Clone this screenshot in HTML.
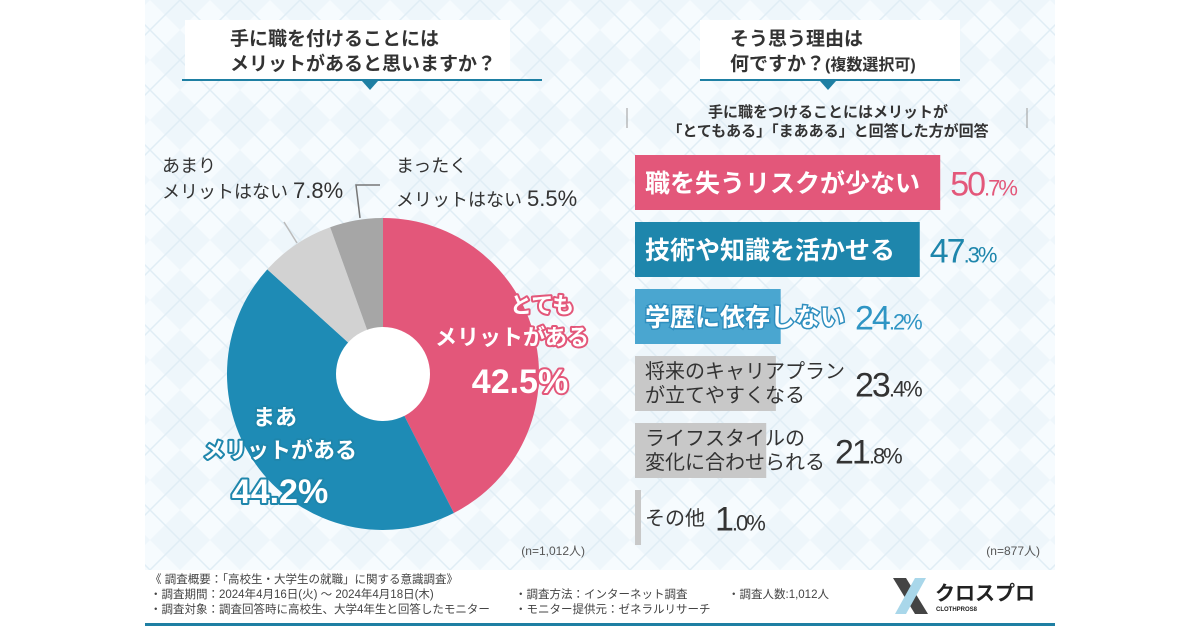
<!DOCTYPE html>
<html><head><meta charset="utf-8">
<style>
html,body{margin:0;padding:0;width:1200px;height:630px;overflow:hidden;background:#fff;font-family:"Liberation Sans","Noto Sans CJK JP",sans-serif;}
svg{display:block}
text{font-family:"Liberation Sans","Noto Sans CJK JP",sans-serif;}
</style></head><body>
<svg id="chart" width="1200" height="630" viewBox="0 0 1200 630">
<defs>
<pattern id="diam" width="60" height="60" patternUnits="userSpaceOnUse">
<rect width="60" height="60" fill="#eef6fb"/>
<path d="M30 0 L60 30 L30 60 L0 30 Z" fill="#f6fbfe"/>
<path d="M0 0 L60 60 M60 0 L0 60" stroke="#e0edf5" stroke-width="1.5"/>
</pattern>
</defs>
<rect x="145" y="0" width="910" height="570" fill="url(#diam)"/>
<g>
<rect x="185" y="20" width="325" height="60" fill="#fff"/>
<text x="230" y="45" font-size="19" font-weight="bold" fill="#333">手に職を付けることには</text>
<text x="230" y="70" font-size="19" font-weight="bold" fill="#333">メリットがあると思いますか？</text>
<rect x="182" y="79" width="360" height="2" fill="#1e7fa3"/>
<path d="M362 81 L378 81 L370 90 Z" fill="#1e7fa3"/>
</g>
<g>
<rect x="700" y="20" width="260" height="60" fill="#fff"/>
<text x="730" y="45" font-size="19" font-weight="bold" fill="#333">そう思う理由は</text>
<text x="730" y="70" font-size="19" font-weight="bold" fill="#333">何ですか？<tspan font-size="16">(複数選択可)</tspan></text>
<rect x="700" y="79" width="260" height="2" fill="#1e7fa3"/>
<path d="M820 81 L836 81 L828 90 Z" fill="#1e7fa3"/>
</g>
<g>
<text x="828" y="117" font-size="15" font-weight="bold" fill="#333" text-anchor="middle">手に職をつけることにはメリットが</text>
<text x="828" y="136" font-size="15" font-weight="bold" fill="#333" text-anchor="middle">「とてもある」「まあある」と回答した方が回答</text>
<line x1="627" y1="108" x2="627" y2="128" stroke="#999"/>
<line x1="1027" y1="108" x2="1027" y2="128" stroke="#999"/>
</g>
<g id="pie"></g>
<g>
<text x="162" y="172" font-size="18" fill="#333">あまり</text>
<text x="162" y="198" font-size="18" fill="#333">メリットはない <tspan font-size="22">7.8%</tspan></text>
<text x="396" y="172" font-size="18" fill="#333">まったく</text>
<text x="396" y="206" font-size="18" fill="#333">メリットはない <tspan font-size="22">5.5%</tspan></text>
<path d="M380 185 L356 185 L360 218" stroke="#777" stroke-width="1.5" fill="none"/>
<line x1="284" y1="222" x2="297" y2="243" stroke="#bbb" stroke-width="1.5"/>
</g>
<g font-weight="bold" fill="#fff" paint-order="stroke" stroke-linejoin="round">
<text x="542" y="313" font-size="22" text-anchor="middle" stroke="#e3577a" stroke-width="4">とても</text>
<text x="512" y="345" font-size="22" text-anchor="middle" stroke="#e3577a" stroke-width="4">メリットがある</text>
<text x="520" y="393" font-size="34" text-anchor="middle" stroke="#e3577a" stroke-width="4">42.5%</text>
<text x="275" y="425" font-size="22" text-anchor="middle" stroke="#1e86ac" stroke-width="4">まあ</text>
<text x="280" y="458" font-size="22" text-anchor="middle" stroke="#1e86ac" stroke-width="4">メリットがある</text>
<text x="280" y="503" font-size="34" text-anchor="middle" stroke="#1e86ac" stroke-width="4">44.2%</text>
</g>
<text x="585" y="555" font-size="12" fill="#555" text-anchor="end">(n=1,012人)</text>
<g id="bars"></g>
<text x="1040" y="555" font-size="12" fill="#555" text-anchor="end">(n=877人)</text>
<g font-size="11.5" fill="#444">
<text x="150" y="583">《 調査概要：「高校生・大学生の就職」に関する意識調査》</text>
<text x="150" y="598">・調査期間：2024年4月16日(火) ～ 2024年4月18日(木)</text>
<text x="150" y="613">・調査対象：調査回答時に高校生、大学4年生と回答したモニター</text>
<text x="515" y="598">・調査方法：インターネット調査</text>
<text x="515" y="613">・モニター提供元：ゼネラルリサーチ</text>
<text x="728" y="598">・調査人数:1,012人</text>
</g>
<g>
<path d="M893 578 L906 578 L928 614 L915 614 Z" fill="#444"/>
<path d="M915 578 L926 578 L906 614 L895 614 Z" fill="#a9d7ea"/>
<text x="935" y="600" font-size="20" font-weight="bold" fill="#222">クロスプロ</text>
<text x="936" y="611" font-size="6" font-weight="bold" fill="#222">CLOTHPROS8</text>
</g>
<rect x="145" y="623" width="910" height="3" fill="#1e7fa3"/>
</svg>
<script>
const pieLabels=['とてもメリットがある','まあメリットがある','あまりメリットはない','まったくメリットはない'];
const pieValues=[42.5,44.2,7.8,5.5];
const pieColors=['#e3577a','#1e8bb5','#d2d2d2','#a6a6a6'];
const barLabels=['職を失うリスクが少ない','技術や知識を活かせる','学歴に依存しない','将来のキャリアプラン|が立てやすくなる','ライフスタイルの|変化に合わせられる','その他'];
const barValues=[50.7,47.3,24.2,23.4,21.8,1.0];
const barColors=['#e3577a','#1e86ac','#4aa6d0','#c8c8c8','#c8c8c8','#c8c8c8'];
const valueColors=['#e3577a','#1e86ac','#2f95c4','#333','#333','#333'];
const NS='http://www.w3.org/2000/svg';
function mk(t,a,p){const e=document.createElementNS(NS,t);for(const k in a)e.setAttribute(k,a[k]);p.appendChild(e);return e;}
const cx=383,cy=374,R=156,r0=47;
const pie=document.getElementById('pie');
const tot=pieValues.reduce((a,b)=>a+b,0);
function ang(v){return v/tot*2*Math.PI-Math.PI/2;}
let acc=0;
pieValues.forEach((v,i)=>{
 const a0=ang(acc),a1=ang(acc+v);acc+=v;
 const large=(a1-a0)>Math.PI?1:0;
 const d=`M${cx+R*Math.cos(a0)} ${cy+R*Math.sin(a0)} A${R} ${R} 0 ${large} 1 ${cx+R*Math.cos(a1)} ${cy+R*Math.sin(a1)} L${cx} ${cy} Z`;
 const p=mk('path',{d:d,fill:pieColors[i]},pie);
 
 
});
const hole=mk('circle',{cx:cx,cy:cy,r:r0,fill:'#fff'},pie);


const bars=document.getElementById('bars');
const x0=635,scale=6.02,y0=155,step=67,bh=55;
function bx(v){return v*scale;}
barValues.forEach((v,i)=>{
 const y=y0+i*step,w=Math.max(bx(v),4);
 const rc=mk('rect',{x:x0,y:y,width:w,height:bh,fill:barColors[i]},bars);
 
 
 const lines=barLabels[i].split('|');
 const colored=i<3;
 const lx=x0+10;
 const g=mk('g',{},bars);
 
 
 let maxw=0;
 lines.forEach((ln,j)=>{
  const fs=colored?25:20;
  const ty=lines.length===1?y+bh/2+fs*0.37:y+22+j*24;
  const t=mk('text',{x:lx,y:ty,'font-size':fs,'font-weight':colored?'bold':'normal',fill:colored?'#fff':'#333'},g);
  if(colored){t.setAttribute('stroke',barColors[i]==='#4aa6d0'?'#2f8fbf':barColors[i]);t.setAttribute('stroke-width','3');t.setAttribute('paint-order','stroke');}
  t.textContent=ln;
  maxw=Math.max(maxw,ln.length*fs);
 });
 const endX=Math.max(x0+w,lx+maxw)+10;
 const vt=mk('text',{x:endX,y:y+bh/2+13,'font-size':34,fill:valueColors[i],'letter-spacing':'-2'},bars);
 
 
 const parts=v.toFixed(1).split('.');
 vt.innerHTML=parts[0]+'<tspan font-size="22">.'+parts[1]+'%</tspan>';
});
</script>
</body></html>
